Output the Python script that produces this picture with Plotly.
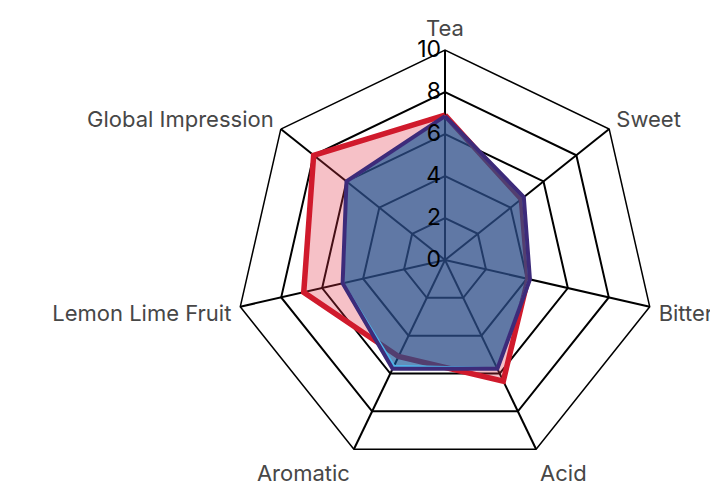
import plotly.graph_objects as go

categories = ["Tea", "Sweet", "Bitter", "Acid", "Aromatic", "Lemon Lime Fruit", "Global Impression"]
red_values = [6.9, 4.65, 4.05, 6.4, 5.1, 6.9, 8.0]
blue_values = [6.83, 4.78, 4.13, 5.73, 5.6, 4.98, 5.98]
purple_values = [6.85, 4.8, 4.15, 5.75, 5.75, 5.0, 6.0]
radial_ticks = [0, 2, 4, 6, 8, 10]


def closed(vals):
    return vals + vals[:1]


cats = closed(categories)

fig = go.Figure()
fig.add_trace(go.Scatterpolar(
    r=closed(red_values), theta=cats, mode="lines", fill="toself",
    fillcolor="rgba(225,50,70,0.3)",
    line=dict(color="#d01a2c", width=5.5),
))
fig.add_trace(go.Scatterpolar(
    r=closed(blue_values), theta=cats, mode="lines", fill="toself",
    fillcolor="rgba(16,82,148,0.65)",
    line=dict(color="#4fb3e8", width=2.5),
))
fig.add_trace(go.Scatterpolar(
    r=closed(purple_values), theta=cats, mode="lines",
    line=dict(color="#3d2b7a", width=4),
))

W, H = 718, 489
dcx, dcy, DR = 437, 252, 210
fig.update_layout(
    width=W, height=H,
    margin=dict(l=0, r=0, t=0, b=0),
    paper_bgcolor="white",
    showlegend=False,
    font=dict(family="Inter, Roboto, sans-serif"),
    polar=dict(
        domain=dict(x=[(dcx - DR) / W, (dcx + DR) / W], y=[1 - (dcy + DR) / H, 1 - (dcy - DR) / H]),
        gridshape="linear",
        bgcolor="white",
        radialaxis=dict(
            range=[0, 10], tickvals=radial_ticks, angle=90, tickangle=90,
            side="counterclockwise",
            showline=False, ticks="", gridcolor="black", gridwidth=1.5,
            tickfont=dict(size=23, color="black"), layer="above traces",
        ),
        angularaxis=dict(
            direction="clockwise", rotation=90,
            ticks="outside", ticklen=4, tickcolor="rgba(0,0,0,0)",
            linecolor="black", linewidth=1.5, gridcolor="black", gridwidth=1.5,
            tickfont=dict(size=22, color="#474747"), layer="above traces",
        ),
    ),
)

fig.write_html("out.html")
